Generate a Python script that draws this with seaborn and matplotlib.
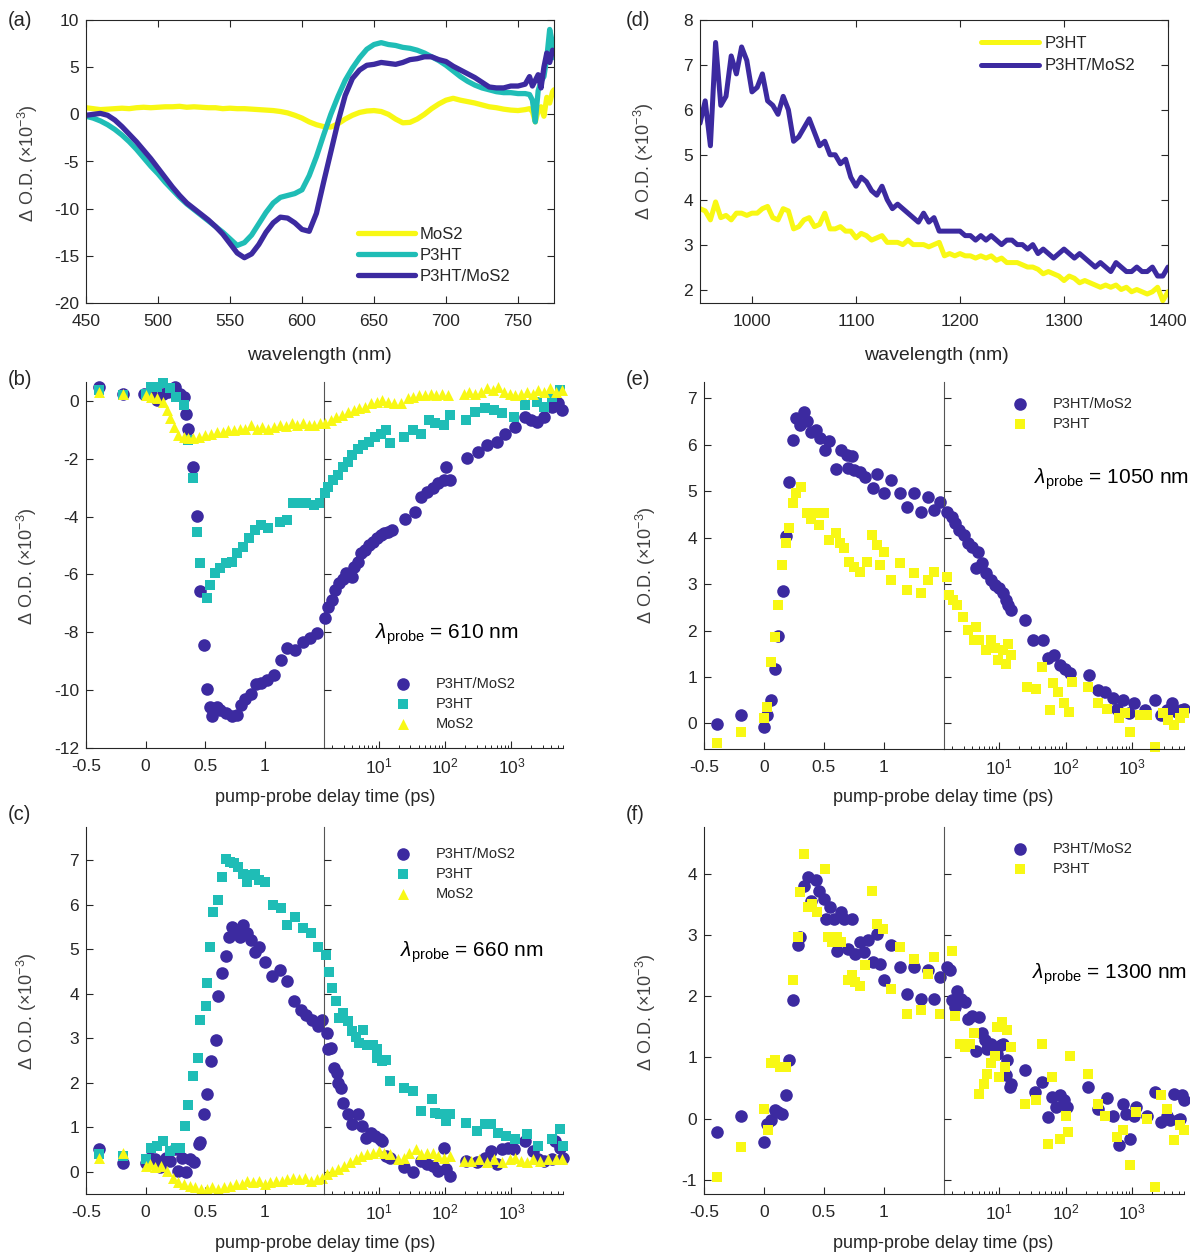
import numpy as np
import matplotlib
matplotlib.use("Agg")
import matplotlib.pyplot as plt
import seaborn as sns

# ---------------- data ----------------
# (a) transient spectra, visible
wl_a = [450, 455, 460, 465, 470, 475, 480, 485, 490, 495, 500, 505, 510, 515, 520, 525, 530, 535,
        540, 545, 550, 555, 560, 565, 570, 575, 580, 585, 590, 595, 600, 605, 610, 615, 620, 625,
        630, 635, 640, 645, 650, 655, 660, 665, 670, 675, 680, 685, 690, 695, 700, 705, 710, 715,
        720, 725, 730, 735, 740, 745, 750, 755, 758, 760, 762, 764, 766, 768, 770, 772, 774, 775]
a_mos2 = [0.7, 0.6, 0.5, 0.55, 0.6, 0.65, 0.6, 0.7, 0.75, 0.7, 0.75, 0.8, 0.8, 0.85, 0.75, 0.8, 0.75, 0.7,
          0.7, 0.6, 0.65, 0.6, 0.6, 0.55, 0.5, 0.45, 0.4, 0.3, 0.15, -0.1, -0.4, -0.8, -1.1, -1.3, -1.35, -1.0,
          -0.5, -0.1, 0.2, 0.35, 0.4, 0.3, 0.0, -0.5, -0.9, -0.85, -0.5, 0.0, 0.6, 1.1, 1.5, 1.7, 1.5, 1.35,
          1.2, 1.0, 0.8, 0.7, 0.55, 0.45, 0.4, 0.5, 0.6, 0.3, -0.8, 0.4, 0.8, -0.2, 1.8, 1.2, 2.4, 2.6]
a_p3ht = [-0.2, -0.4, -0.7, -1.1, -1.6, -2.2, -2.9, -3.7, -4.6, -5.5, -6.3, -7.2, -8.0, -8.8, -9.5, -10.1, -10.7, -11.3,
          -11.9, -12.5, -13.2, -13.9, -13.6, -12.8, -11.6, -10.4, -9.4, -8.8, -8.6, -8.4, -8.0, -6.5, -4.5, -2.2, 0.0, 1.9,
          3.6, 4.9, 6.0, 6.9, 7.4, 7.6, 7.4, 7.3, 7.1, 7.0, 6.8, 6.5, 6.1, 5.7, 5.2, 4.6, 4.0, 3.5,
          3.1, 2.8, 2.6, 2.4, 2.3, 2.3, 2.2, 2.2, 2.1, 1.5, -0.8, 2.5, 3.5, 4.0, 6.0, 9.0, 7.5, 6.0]
a_hyb = [-0.1, 0.0, 0.1, -0.1, -0.6, -1.3, -2.1, -2.9, -3.8, -4.7, -5.7, -6.7, -7.7, -8.6, -9.4, -10.0, -10.6, -11.2,
         -11.9, -12.7, -13.7, -14.7, -15.2, -14.8, -13.8, -12.5, -11.5, -10.9, -11.0, -11.5, -12.2, -12.4, -10.5, -7.2, -4.0, -0.8,
         2.0, 3.8, 4.7, 5.2, 5.3, 5.5, 5.4, 5.3, 5.5, 5.8, 5.9, 6.1, 6.1, 5.8, 5.6, 5.1, 4.7, 4.3,
         3.9, 3.4, 2.9, 2.8, 2.8, 3.0, 3.0, 3.2, 4.0, 3.0, 3.6, 4.2, 2.8, 5.0, 6.5, 5.5, 6.8, 6.5]

# (d) transient spectra, near infrared
wl_d = [950, 955, 960, 965, 970, 975, 980, 985, 990, 995, 1000, 1005, 1010, 1015, 1020, 1025, 1030, 1035,
        1040, 1045, 1050, 1055, 1060, 1065, 1070, 1075, 1080, 1085, 1090, 1095, 1100, 1105, 1110, 1115,
        1120, 1125, 1130, 1135, 1140, 1145, 1150, 1155, 1160, 1165, 1170, 1175, 1180, 1185, 1190, 1195,
        1200, 1205, 1210, 1215, 1220, 1225, 1230, 1235, 1240, 1245, 1250, 1255, 1260, 1265, 1270, 1275,
        1280, 1285, 1290, 1295, 1300, 1305, 1310, 1315, 1320, 1325, 1330, 1335, 1340, 1345, 1350, 1355,
        1360, 1365, 1370, 1375, 1380, 1385, 1390, 1395, 1400]
d_p3ht = [3.8, 3.75, 3.55, 3.95, 3.6, 3.65, 3.55, 3.7, 3.7, 3.65, 3.7, 3.7, 3.8, 3.85, 3.6, 3.55, 3.8, 3.75,
          3.35, 3.4, 3.55, 3.6, 3.4, 3.45, 3.7, 3.35, 3.35, 3.4, 3.3, 3.3, 3.15, 3.25, 3.2, 3.1,
          3.15, 3.2, 3.05, 3.05, 3.05, 3.0, 3.1, 3.0, 3.0, 3.0, 2.95, 3.0, 3.05, 2.75, 2.8, 2.75,
          2.8, 2.75, 2.75, 2.7, 2.75, 2.7, 2.75, 2.65, 2.7, 2.6, 2.6, 2.6, 2.55, 2.5, 2.5, 2.45,
          2.35, 2.4, 2.35, 2.3, 2.2, 2.3, 2.25, 2.15, 2.2, 2.15, 2.1, 2.05, 2.1, 2.05, 2.1, 2.0,
          2.05, 1.95, 2.0, 1.95, 1.9, 1.95, 2.05, 1.75, 1.95]
d_hyb = [5.7, 6.2, 5.2, 7.5, 6.1, 6.3, 7.2, 6.8, 7.4, 7.1, 6.4, 6.5, 6.8, 6.2, 6.1, 5.9, 6.3, 6.0,
         5.3, 5.4, 5.6, 5.8, 5.5, 5.2, 5.3, 5.0, 5.0, 4.8, 4.9, 4.5, 4.3, 4.5, 4.4, 4.2,
         4.1, 4.3, 4.0, 3.8, 3.9, 3.8, 3.7, 3.6, 3.5, 3.7, 3.5, 3.6, 3.3, 3.3, 3.3, 3.3,
         3.3, 3.2, 3.2, 3.1, 3.2, 3.1, 3.2, 3.1, 3.0, 3.1, 3.1, 3.0, 3.0, 2.9, 3.0, 2.8,
         2.9, 2.8, 2.7, 2.8, 2.9, 2.8, 2.7, 2.8, 2.7, 2.6, 2.5, 2.6, 2.5, 2.4, 2.6, 2.5,
         2.4, 2.4, 2.5, 2.4, 2.4, 2.5, 2.3, 2.3, 2.5]

# kinetics: rows of (delay in ps, dOD x1e-3)
b_hyb = np.array([[-0.39, 0.46], [-0.19, 0.22], [-0.01, 0.23], [0.05, 0.25], [0.10, 0.02], [0.15, 0.25], [0.19, 0.31],
                  [0.25, 0.46], [0.29, 0.23], [0.32, 0.12], [0.34, -0.44], [0.36, -0.99], [0.40, -2.30], [0.43, -3.98],
                  [0.46, -6.57], [0.49, -8.45], [0.52, -9.97], [0.54, -10.6], [0.56, -10.9], [0.60, -10.6], [0.63, -10.7],
                  [0.68, -10.8], [0.73, -10.9], [0.77, -10.85], [0.80, -10.5], [0.84, -10.3], [0.89, -10.15], [0.93, -9.8],
                  [0.97, -9.75], [1.02, -9.65], [1.08, -9.47], [1.14, -8.95], [1.19, -8.55], [1.26, -8.6], [1.32, -8.32],
                  [1.38, -8.2], [1.44, -8.03], [1.53, -7.51], [1.75, -7.11], [1.95, -6.88], [2.23, -6.54], [2.55, -6.3],
                  [2.92, -6.17], [3.2, -5.96], [3.9, -6.08], [4.2, -5.73], [4.8, -5.56], [5.5, -5.27], [6.3, -5.16],
                  [7.2, -4.98], [8.2, -4.87], [9.3, -4.75], [10.7, -4.64], [12.2, -4.58], [13.9, -4.52], [15.9, -4.46],
                  [24.8, -4.10], [35.6, -3.83], [43.6, -3.31], [53.2, -3.14], [65, -3.03], [79, -2.85], [97, -2.74],
                  [104, -2.28], [119, -2.74], [217, -1.99], [316, -1.76], [422, -1.53], [613, -1.42], [800, -1.13],
                  [1150, -0.90], [1600, -0.55], [1975, -0.67], [2420, -0.72], [3150, -0.55], [4140, -0.21],
                  [5045, -0.09], [5800, -0.32]])
b_p3ht = np.array([[-0.39, 0.37], [-0.19, 0.20], [0.0, 0.25], [0.05, 0.48], [0.10, 0.48], [0.15, 0.60], [0.21, 0.43],
                   [0.26, 0.14], [0.32, -0.15], [0.355, -1.36], [0.40, -2.68], [0.435, -4.52], [0.46, -5.59], [0.52, -6.82],
                   [0.54, -6.36], [0.58, -5.96], [0.63, -5.79], [0.68, -5.62], [0.73, -5.56], [0.77, -5.27], [0.82, -5.04],
                   [0.87, -4.75], [0.92, -4.46], [0.97, -4.29], [1.03, -4.41], [1.13, -4.18], [1.19, -4.12], [1.24, -3.54],
                   [1.29, -3.54], [1.35, -3.54], [1.42, -3.60], [1.47, -3.54], [1.53, -3.20], [1.75, -2.97], [2.07, -2.74],
                   [2.45, -2.57], [2.92, -2.28], [3.4, -2.11], [3.9, -1.88], [4.8, -1.65], [5.9, -1.53], [7.2, -1.42],
                   [8.8, -1.24], [10.7, -1.13], [13, -1.01], [15, -1.47], [24, -1.24], [33, -1.01], [44, -1.13],
                   [57, -0.67], [70, -0.78], [97, -0.84], [119, -0.49], [210, -0.67], [285, -0.38], [400, -0.26],
                   [550, -0.32], [720, -0.41], [1080, -0.55], [1600, -0.15], [2420, -0.03], [3150, -0.21],
                   [4140, 0.14], [5400, 0.37]])
b_mos2 = np.array([[-0.39, 0.31], [-0.19, 0.25], [0.0, 0.20], [0.05, 0.14], [0.10, 0.08], [0.145, -0.03], [0.18, -0.32],
                   [0.21, -0.61], [0.24, -0.90], [0.27, -1.19], [0.32, -1.24], [0.355, -1.30], [0.40, -1.30], [0.45, -1.24],
                   [0.50, -1.19], [0.55, -1.13], [0.60, -1.07], [0.65, -1.07], [0.69, -1.01], [0.74, -1.01], [0.79, -0.96],
                   [0.84, -0.96], [0.89, -0.84], [0.94, -0.96], [0.98, -0.90], [1.03, -0.96], [1.08, -0.90], [1.13, -0.84],
                   [1.18, -0.87], [1.23, -0.78], [1.27, -0.84], [1.32, -0.78], [1.37, -0.82], [1.42, -0.84], [1.47, -0.78],
                   [1.53, -0.78], [1.88, -0.67], [2.3, -0.55], [2.8, -0.49], [3.4, -0.38], [4.2, -0.32], [5.1, -0.26],
                   [6.3, -0.21], [7.6, -0.09], [9.3, -0.03], [11.4, 0.02], [13.9, -0.03], [17, -0.09], [22, -0.09],
                   [27.3, 0.08], [33, 0.14], [41, 0.20], [50, 0.20], [61, 0.25], [74, 0.20], [91, 0.25], [111, 0.20],
                   [190, 0.25], [232, 0.31], [285, 0.25], [346, 0.31], [422, 0.43], [520, 0.37], [630, 0.48],
                   [770, 0.31], [940, 0.25], [1150, 0.20], [1410, 0.25], [1720, 0.31], [2100, 0.25], [2560, 0.37],
                   [3150, 0.31], [3840, 0.43], [4700, 0.31], [5750, 0.37]])

c_hyb = np.array([[-0.39, 0.51], [-0.19, 0.19], [0.0, 0.19], [0.04, 0.32], [0.08, 0.28], [0.12, 0.10], [0.17, 0.32],
                  [0.21, 0.25], [0.25, 0.51], [0.27, 0.02], [0.31, 0.32], [0.34, -0.01], [0.37, 0.28], [0.41, 0.21],
                  [0.45, 0.62], [0.46, 0.66], [0.49, 1.29], [0.52, 1.74], [0.55, 2.49], [0.59, 2.96], [0.61, 3.94],
                  [0.64, 4.46], [0.68, 4.84], [0.70, 5.28], [0.73, 5.51], [0.76, 5.43], [0.79, 5.28], [0.82, 5.54],
                  [0.85, 5.36], [0.89, 5.21], [0.92, 4.95], [0.95, 5.06], [1.00, 4.72], [1.06, 4.39], [1.13, 4.54],
                  [1.19, 4.28], [1.25, 3.83], [1.31, 3.64], [1.35, 3.53], [1.40, 3.42], [1.45, 3.27], [1.48, 3.42],
                  [1.64, 3.12], [1.71, 2.75], [1.88, 2.78], [2.15, 2.34], [2.35, 2.22], [2.45, 2.00], [2.73, 1.89],
                  [2.92, 1.55], [3.5, 1.29], [3.9, 1.07], [4.8, 1.29], [5.7, 1.03], [6.5, 0.77], [7.6, 0.88],
                  [8.8, 0.81], [10.3, 0.73], [11.4, 0.69], [13, 0.36], [15, 0.32], [24, 0.10], [33, -0.01],
                  [43, 0.25], [53, 0.17], [65, 0.13], [79, 0.02], [97, 0.54], [104, 0.06], [119, -0.09],
                  [205, 0.25], [305, 0.21], [400, 0.32], [490, 0.47], [613, 0.17], [720, 0.51], [880, 0.54],
                  [1080, 0.51], [1600, 0.69], [2100, 0.47], [2560, 0.28], [3150, 0.25], [4140, 0.28],
                  [4600, 0.69], [5400, 0.54], [5900, 0.32]])
c_p3ht = np.array([[-0.39, 0.40], [-0.19, 0.36], [0.0, 0.28], [0.05, 0.54], [0.10, 0.58], [0.15, 0.69], [0.21, 0.47],
                   [0.26, 0.54], [0.29, 0.54], [0.33, 1.03], [0.36, 1.51], [0.40, 2.15], [0.44, 2.56], [0.46, 3.42],
                   [0.51, 3.72], [0.52, 4.24], [0.54, 5.06], [0.57, 5.84], [0.61, 6.10], [0.64, 6.63], [0.68, 7.04],
                   [0.71, 6.96], [0.74, 6.93], [0.78, 6.85], [0.82, 6.70], [0.85, 6.51], [0.89, 6.66], [0.92, 6.70],
                   [0.95, 6.55], [1.00, 6.51], [1.07, 5.99], [1.14, 5.92], [1.19, 5.54], [1.26, 5.73], [1.32, 5.47],
                   [1.39, 5.36], [1.45, 5.06], [1.6, 4.87], [1.8, 4.50], [2.0, 4.13], [2.3, 3.83], [2.55, 3.46],
                   [2.92, 3.57], [3.5, 3.38], [4.0, 3.16], [4.5, 3.04], [5.1, 2.90], [5.9, 3.19], [6.7, 2.86],
                   [8.2, 2.86], [9.3, 2.75], [9.6, 2.56], [11.4, 2.49], [13, 2.52], [15, 2.04], [24, 1.89],
                   [33, 1.81], [44, 1.37], [64, 1.63], [70, 1.33], [85, 1.29], [104, 1.14], [119, 1.29],
                   [210, 1.10], [305, 0.92], [400, 1.07], [490, 1.07], [630, 0.88], [830, 0.81], [1150, 0.73],
                   [1720, 0.84], [2560, 0.58], [4140, 0.73], [5400, 0.96], [5900, 0.58]])
c_mos2 = np.array([[-0.39, 0.32], [-0.19, 0.42], [0.0, 0.13], [0.04, 0.17], [0.08, 0.10], [0.13, 0.13], [0.18, 0.02],
                   [0.23, -0.13], [0.27, -0.24], [0.32, -0.28], [0.37, -0.31], [0.42, -0.35], [0.47, -0.39], [0.52, -0.39],
                   [0.56, -0.35], [0.61, -0.39], [0.66, -0.35], [0.71, -0.31], [0.76, -0.28], [0.81, -0.28], [0.85, -0.20],
                   [0.90, -0.24], [0.95, -0.20], [1.00, -0.28], [1.05, -0.24], [1.10, -0.20], [1.15, -0.20], [1.19, -0.16],
                   [1.24, -0.13], [1.29, -0.16], [1.34, -0.13], [1.39, -0.20], [1.44, -0.16], [1.48, -0.13],
                   [1.64, -0.05], [2.0, 0.02], [2.45, 0.06], [3.0, 0.13], [3.7, 0.21], [4.5, 0.28], [5.5, 0.36],
                   [6.7, 0.40], [8.2, 0.43], [10, 0.47], [12.2, 0.43], [15, 0.40], [19.5, 0.28], [24, 0.32],
                   [29, 0.43], [36, 0.51], [44, 0.40], [53, 0.43], [65, 0.43], [79, 0.36], [97, 0.32], [119, 0.36],
                   [190, 0.25], [248, 0.25], [325, 0.28], [422, 0.21], [550, 0.28], [720, 0.21], [940, 0.28],
                   [1150, 0.32], [1410, 0.25], [1720, 0.21], [2100, 0.28], [2740, 0.25], [3600, 0.28],
                   [4700, 0.28], [5750, 0.28]])

e_hyb = np.array([[-0.39, -0.02], [-0.19, 0.18], [0.0, -0.07], [0.025, 0.18], [0.06, 0.50], [0.09, 1.18], [0.12, 1.88],
                  [0.16, 2.85], [0.18, 4.04], [0.21, 5.20], [0.245, 6.10], [0.27, 6.57], [0.30, 6.43], [0.33, 6.71],
                  [0.355, 6.50], [0.39, 6.28], [0.43, 6.32], [0.47, 6.14], [0.51, 5.89], [0.54, 6.07], [0.60, 5.47],
                  [0.64, 5.89], [0.69, 5.78], [0.73, 5.76], [0.70, 5.49], [0.75, 5.46], [0.80, 5.42], [0.84, 5.31],
                  [0.91, 5.06], [0.94, 5.38], [1.00, 4.95], [1.06, 5.24], [1.13, 4.95], [1.19, 4.67], [1.25, 4.95],
                  [1.31, 4.56], [1.37, 4.88], [1.42, 4.59], [1.47, 4.77], [1.69, 4.56], [2.0, 4.45], [2.2, 4.31],
                  [2.5, 4.16], [2.98, 4.06], [3.4, 3.88], [3.98, 3.80], [4.85, 3.70], [4.5, 3.34], [5.5, 3.45],
                  [6.3, 3.23], [7.7, 3.09], [8.8, 2.98], [10, 2.91], [11.4, 2.80], [12.7, 2.66], [13.9, 2.55],
                  [15.2, 2.44], [25, 2.23], [32.6, 1.79], [45.3, 1.79], [55, 1.40], [67, 1.47], [82, 1.26],
                  [99.7, 1.18], [118, 1.08], [229, 1.04], [305, 0.72], [398, 0.68], [520, 0.54], [595, 0.32],
                  [720, 0.50], [900, 0.22], [1070, 0.43], [1580, 0.29], [2200, 0.50], [2680, 0.18], [3280, 0.29],
                  [3980, 0.43], [4700, 0.25], [5500, 0.29], [5900, 0.32]])
e_p3ht = np.array([[-0.39, -0.43], [-0.19, -0.18], [0.0, 0.11], [0.025, 0.36], [0.06, 1.33], [0.09, 1.87], [0.12, 2.55],
                   [0.15, 3.41], [0.18, 3.88], [0.21, 4.20], [0.24, 4.74], [0.27, 4.95], [0.31, 5.10], [0.355, 4.52],
                   [0.39, 4.41], [0.43, 4.52], [0.46, 4.27], [0.50, 4.52], [0.54, 3.95], [0.60, 4.09], [0.63, 3.88],
                   [0.67, 3.77], [0.71, 3.48], [0.75, 3.37], [0.80, 3.27], [0.86, 3.48], [0.90, 4.06], [0.94, 3.84],
                   [0.97, 3.41], [1.00, 3.70], [1.06, 3.09], [1.13, 3.45], [1.19, 2.87], [1.25, 3.23], [1.31, 2.81],
                   [1.37, 3.09], [1.42, 3.27], [1.69, 3.16], [1.77, 2.76], [2.06, 2.66], [2.35, 2.55], [2.86, 2.30],
                   [3.4, 2.01], [4.5, 2.08], [4.2, 1.79], [5.1, 1.79], [6.3, 1.58], [7.7, 1.79], [8.8, 1.62],
                   [9.7, 1.36], [11.4, 1.58], [12.7, 1.29], [13.9, 1.72], [15.2, 1.47], [26.8, 0.79], [36.3, 0.75],
                   [45, 1.22], [59, 0.29], [65, 0.86], [77, 0.68], [94, 0.43], [114, 0.25], [123, 0.90],
                   [220, 0.79], [305, 0.43], [424, 0.32], [630, 0.11], [770, 0.22], [935, -0.18], [1300, 0.18],
                   [1690, 0.18], [2200, -0.50], [2860, 0.22], [3500, 0.07], [4250, -0.04], [5200, 0.11],
                   [5900, 0.22]])

f_hyb = np.array([[-0.39, -0.22], [-0.19, 0.04], [0.0, -0.38], [0.025, -0.08], [0.06, -0.03], [0.09, 0.14], [0.12, 0.11],
                  [0.15, 0.08], [0.18, 0.38], [0.21, 0.96], [0.245, 1.93], [0.28, 2.83], [0.30, 2.96], [0.33, 3.80],
                  [0.365, 3.94], [0.39, 3.56], [0.43, 3.89], [0.46, 3.72], [0.50, 3.59], [0.52, 3.26], [0.55, 3.45],
                  [0.58, 3.26], [0.61, 2.74], [0.64, 3.37], [0.67, 3.26], [0.70, 2.77], [0.73, 3.26], [0.76, 2.69],
                  [0.80, 2.88], [0.83, 2.72], [0.87, 2.91], [0.91, 2.55], [0.94, 3.02], [0.97, 2.53], [1.00, 2.26],
                  [1.06, 2.83], [1.13, 2.47], [1.19, 2.04], [1.25, 2.47], [1.31, 1.96], [1.37, 2.42], [1.42, 1.96],
                  [1.47, 2.31], [1.69, 2.47], [1.82, 2.42], [2.0, 1.93], [2.2, 1.82], [2.35, 2.09], [2.68, 1.96],
                  [3.06, 1.90], [3.4, 1.63], [3.98, 1.68], [4.5, 1.11], [5.0, 1.66], [5.5, 1.39], [6.1, 1.28],
                  [6.7, 1.14], [7.5, 1.22], [8.2, 1.17], [9.4, 1.06], [10.7, 1.20], [11.7, 1.22], [12.7, 0.71],
                  [13.4, 0.95], [14.8, 0.52], [15.2, 0.57], [25, 0.79], [35, 0.43], [45, 0.60], [55, 0.03],
                  [63, 0.35], [72, 0.19], [82, 0.38], [94, 0.30], [107, 0.19], [220, 0.52], [305, 0.16],
                  [424, 0.33], [520, 0.05], [630, -0.43], [720, 0.24], [820, 0.08], [935, -0.33], [1070, 0.05],
                  [1140, 0.19], [1650, 0.05], [2200, 0.43], [2680, -0.05], [3280, 0.05], [3730, -0.03],
                  [4250, 0.41], [4850, -0.03], [5300, 0.0], [5600, 0.38], [5950, 0.30]])
f_p3ht = np.array([[-0.39, -0.95], [-0.19, -0.47], [0.0, 0.16], [0.03, -0.19], [0.06, 0.90], [0.09, 0.95], [0.13, 0.84],
                   [0.18, 0.84], [0.245, 2.26], [0.28, 2.96], [0.30, 3.70], [0.33, 4.32], [0.365, 3.45], [0.40, 3.51],
                   [0.44, 3.37], [0.51, 4.08], [0.53, 2.96], [0.57, 2.88], [0.61, 2.96], [0.64, 2.88], [0.70, 2.26],
                   [0.73, 2.34], [0.76, 2.23], [0.80, 2.17], [0.84, 2.50], [0.90, 3.72], [0.94, 3.18], [0.99, 3.10],
                   [1.06, 2.12], [1.13, 2.80], [1.19, 1.71], [1.25, 2.61], [1.31, 1.77], [1.37, 2.36], [1.42, 2.64],
                   [1.47, 1.71], [2.0, 2.74], [2.2, 1.68], [2.6, 1.22], [3.06, 1.17], [3.7, 1.22], [4.2, 1.39],
                   [5.1, 0.41], [5.9, 0.57], [6.7, 0.73], [7.7, 0.90], [8.8, 1.03], [9.4, 1.50], [10, 0.68],
                   [11.1, 1.58], [12.2, 0.84], [13.4, 1.44], [15.2, 1.17], [25, 0.24], [36, 0.30], [45, 1.22],
                   [55, -0.41], [63, 0.68], [82, -0.33], [100, 0.05], [110, -0.22], [118, 1.03], [220, 0.73],
                   [305, 0.24], [398, 0.05], [595, -0.30], [720, -0.19], [935, -0.76], [1140, 0.11], [1650, 0.0],
                   [2200, -1.11], [2680, 0.38], [3280, 0.16], [4250, -0.35], [5200, -0.11], [5900, -0.19]])

# ---------------- style ----------------
sns.set_theme(style="ticks")
plt.rcParams['font.family'] = ['Liberation Sans', 'DejaVu Sans']
plt.rcParams['mathtext.fontset'] = 'custom'
plt.rcParams['mathtext.rm'] = 'Liberation Sans'
plt.rcParams['mathtext.it'] = 'Liberation Sans:italic'
plt.rcParams['mathtext.bf'] = 'Liberation Sans:bold'
plt.rcParams['mathtext.default'] = 'regular'
plt.rcParams['axes.unicode_minus'] = False

BLUE = '#3C2AA0'
TEAL = '#1FBDB6'
YEL = '#F8F814'
AX = '#262626'
SPLIT = 1.5
LOGMAX = 6000
TICK_FS = 12.5

W, H = 1190, 1255
fig = plt.figure(figsize=(W / 100, H / 100), dpi=100)
fig.patch.set_facecolor('white')


def rect(l, r, t, b):
    return [l / W, 1 - b / H, (r - l) / W, (b - t) / H]


def fx(px):
    return px / W


def fy(py):
    return 1 - py / H


YLAB = 'Δ O.D. (×$10^{-3}$)'


def box_axes(ax):
    for sp in ax.spines.values():
        sp.set_color(AX)
        sp.set_linewidth(0.8)
    ax.tick_params(direction='in', length=5, width=0.8, colors=AX, labelsize=TICK_FS,
                   top=True, right=True, pad=5)
    ax.tick_params(axis='x', pad=8)


# ---------------- (a) ----------------
axa = fig.add_axes(rect(86, 554, 20, 303))
sns.lineplot(x=wl_a, y=a_mos2, ax=axa, color=YEL, linewidth=3.8, label='MoS2', sort=False, estimator=None)
sns.lineplot(x=wl_a, y=a_p3ht, ax=axa, color=TEAL, linewidth=3.8, label='P3HT', sort=False, estimator=None)
sns.lineplot(x=wl_a, y=a_hyb, ax=axa, color=BLUE, linewidth=3.8, label='P3HT/MoS2', sort=False, estimator=None)
axa.set_xlim(450, 775)
axa.set_ylim(-20, 10)
axa.set_xticks([450, 500, 550, 600, 650, 700, 750])
axa.set_yticks([-20, -15, -10, -5, 0, 5, 10])
axa.set_xlabel('')
axa.set_ylabel('')
box_axes(axa)
h, l = axa.get_legend_handles_labels()
axa.legend(h, l, loc='upper left', bbox_to_anchor=(fx(358), fy(227)), bbox_transform=fig.transFigure,
           frameon=False, fontsize=12, handlelength=3.4, handletextpad=0.3, labelspacing=0.35,
           borderpad=0, borderaxespad=0, labelcolor=AX)

# ---------------- (d) ----------------
axd = fig.add_axes(rect(700, 1168, 20, 303))
sns.lineplot(x=wl_d, y=d_p3ht, ax=axd, color=YEL, linewidth=3.6, label='P3HT', sort=False, estimator=None)
sns.lineplot(x=wl_d, y=d_hyb, ax=axd, color=BLUE, linewidth=3.6, label='P3HT/MoS2', sort=False, estimator=None)
axd.set_xlim(950, 1400)
axd.set_ylim(1.7, 8)
axd.set_xticks([1000, 1100, 1200, 1300, 1400])
axd.set_yticks([2, 3, 4, 5, 6, 7, 8])
axd.set_xlabel('')
axd.set_ylabel('')
box_axes(axd)
h, l = axd.get_legend_handles_labels()
axd.legend(h, l, loc='upper left', bbox_to_anchor=(fx(981), fy(36)), bbox_transform=fig.transFigure,
           frameon=False, fontsize=12, handlelength=3.5, handletextpad=0.3, labelspacing=0.45,
           borderpad=0, borderaxespad=0, labelcolor=AX)


# ---------------- split-axis kinetics panels ----------------
def split_panel(l, s, r, t, b, series, ylim, yticks, leg_xy):
    ax1 = fig.add_axes(rect(l, s, t, b))
    ax2 = fig.add_axes(rect(s, r, t, b))
    ax2.set_xscale('log')
    ax2.patch.set_visible(False)
    for name, arr, marker, color, size in series:
        left = arr[:, 0] <= SPLIT
        sns.scatterplot(x=arr[left, 0], y=arr[left, 1], ax=ax1, marker=marker, color=color, s=size,
                        linewidth=0, label=name, clip_on=False)
        sns.scatterplot(x=arr[~left, 0], y=arr[~left, 1], ax=ax2, marker=marker, color=color, s=size,
                        linewidth=0, clip_on=False)
    for ax in (ax1, ax2):
        ax.set_ylim(*ylim)
        ax.set_yticks(yticks)
        ax.set_xlabel('')
        ax.set_ylabel('')
        for sp in ax.spines.values():
            sp.set_color(AX)
            sp.set_linewidth(0.8)
    ax1.set_xlim(-0.5, SPLIT)
    ax1.set_xticks([-0.5, 0, 0.5, 1], labels=['-0.5', '0', '0.5', '1'])
    ax2.set_xlim(SPLIT, LOGMAX)
    ax2.set_xticks([10, 100, 1000])
    ax2.xaxis.set_minor_formatter(matplotlib.ticker.NullFormatter())
    ax1.spines['top'].set_visible(False)
    ax1.spines['right'].set_color('#555555')
    for k in ('top', 'right', 'left'):
        ax2.spines[k].set_visible(False)
    ax1.tick_params(axis='x', direction='in', length=5, width=0.8, colors=AX, labelsize=TICK_FS, pad=8,
                    top=False)
    ax1.tick_params(axis='y', direction='in', length=5, width=0.8, colors=AX, labelsize=TICK_FS, pad=5,
                    right=False)
    ax2.tick_params(axis='y', which='both', left=True, right=False, labelleft=False, direction='in',
                    length=5, width=0.8, colors=AX)
    ax2.tick_params(axis='x', which='major', direction='in', length=5, width=0.8, colors=AX,
                    labelsize=TICK_FS, pad=6, top=False)
    ax2.tick_params(axis='x', which='minor', direction='in', length=2.5, width=0.7, colors=AX, top=False)
    lg = ax1.get_legend()
    if lg is not None:
        lg.remove()
    h, lbl = ax1.get_legend_handles_labels()
    ax2.legend(h, lbl, loc='upper left', bbox_to_anchor=(fx(leg_xy[0]), fy(leg_xy[1])),
               bbox_transform=fig.transFigure, frameon=False, fontsize=10.5, handlelength=2.0,
               handletextpad=1.3, labelspacing=0.4, borderpad=0, borderaxespad=0, labelcolor=AX,
               scatterpoints=1)
    return ax1, ax2


S_CIRC, S_SQ, S_TRI = 82, 44, 62

split_panel(86, 324, 563, 382, 748,
            [('P3HT/MoS2', b_hyb, 'o', BLUE, S_CIRC),
             ('P3HT', b_p3ht, 's', TEAL, S_SQ),
             ('MoS2', b_mos2, '^', YEL, S_TRI)],
            (-12, 0.65), [-12, -10, -8, -6, -4, -2, 0], (388, 677))

split_panel(86, 324, 563, 827, 1194,
            [('P3HT/MoS2', c_hyb, 'o', BLUE, S_CIRC),
             ('P3HT', c_p3ht, 's', TEAL, S_SQ),
             ('MoS2', c_mos2, '^', YEL, S_TRI)],
            (-0.5, 7.75), [0, 1, 2, 3, 4, 5, 6, 7], (388, 847))

split_panel(704, 944, 1184, 382, 749,
            [('P3HT/MoS2', e_hyb, 'o', BLUE, S_CIRC),
             ('P3HT', e_p3ht, 's', YEL, S_SQ)],
            (-0.55, 7.35), [0, 1, 2, 3, 4, 5, 6, 7], (1005, 397))

split_panel(704, 944, 1184, 827, 1194,
            [('P3HT/MoS2', f_hyb, 'o', BLUE, S_CIRC),
             ('P3HT', f_p3ht, 's', YEL, S_SQ)],
            (-1.23, 4.76), [-1, 0, 1, 2, 3, 4], (1005, 842))

# ---------------- texts ----------------
for lab, x, y in [('(a)', 8, 20), ('(b)', 8, 380), ('(c)', 8, 814),
                  ('(d)', 626, 20), ('(e)', 626, 380), ('(f)', 626, 814)]:
    fig.text(fx(x), fy(y), lab, ha='left', va='center', fontsize=14.5, color=AX)

for x, y in [(28, 163), (27, 566), (27, 1011), (644, 161), (646, 565), (646, 1012)]:
    fig.text(fx(x), fy(y), YLAB, rotation=90, ha='center', va='center', fontsize=13, color='#404040')

for txt, x, y in [('wavelength (nm)', 319, 356), ('wavelength (nm)', 936, 356),
                  ('pump-probe delay time (ps)', 325, 798), ('pump-probe delay time (ps)', 325, 1243),
                  ('pump-probe delay time (ps)', 943, 798), ('pump-probe delay time (ps)', 943, 1243)]:
    fig.text(fx(x), fy(y), txt, ha='center', va='center', fontsize=14 if 'wave' in txt else 13,
             color=AX)

for txt, x, y in [(r'$\mathit{\lambda}_{\mathrm{probe}}$ = 610 nm', 447, 634),
                  (r'$\mathit{\lambda}_{\mathrm{probe}}$ = 660 nm', 472, 952),
                  (r'$\mathit{\lambda}_{\mathrm{probe}}$ = 1050 nm', 1111, 479),
                  (r'$\mathit{\lambda}_{\mathrm{probe}}$ = 1300 nm', 1109, 974)]:
    fig.text(fx(x), fy(y), txt, ha='center', va='center', fontsize=15, color='black')

fig.savefig('out.png', dpi=100, facecolor='white')
